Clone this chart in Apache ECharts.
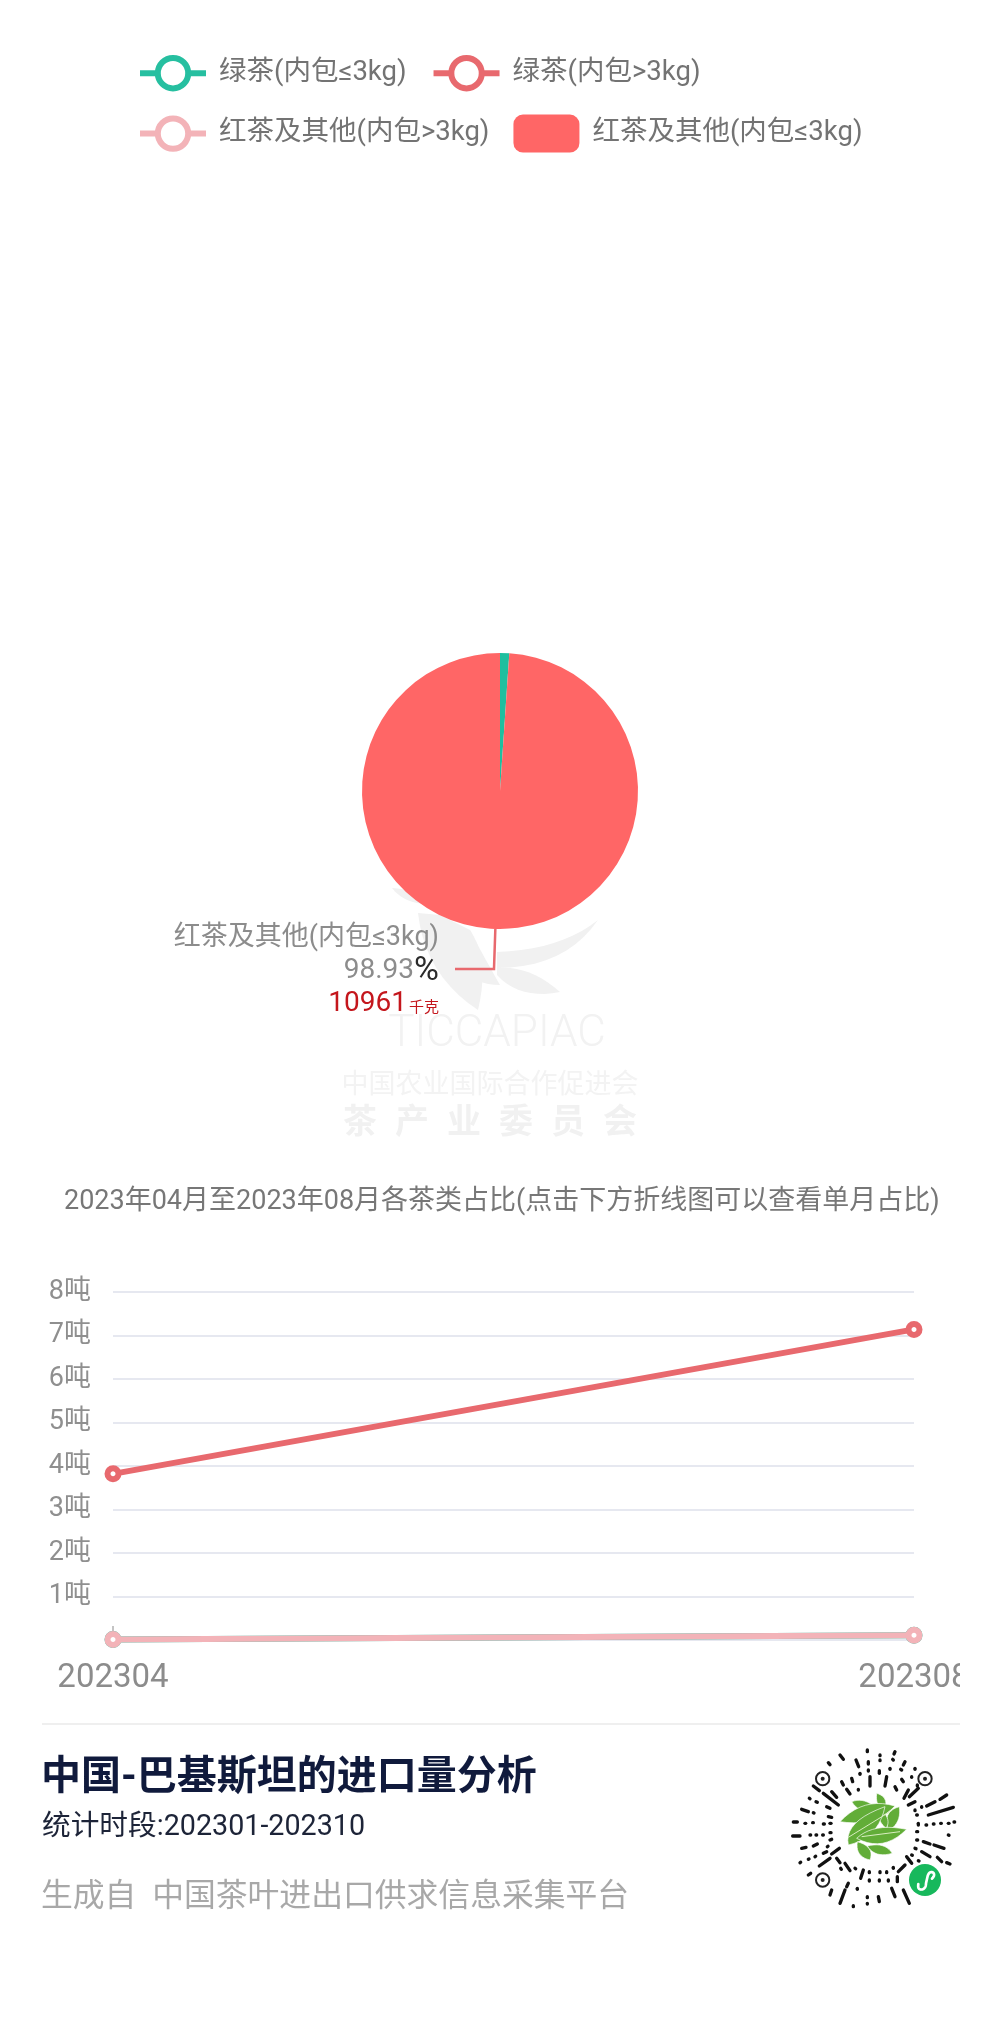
<!DOCTYPE html>
<html><head><meta charset="utf-8">
<style>html,body{margin:0;padding:0;background:#fff}#c{width:1000px;height:2042px}</style>
<script src="https://cdn.jsdelivr.net/npm/echarts@6/dist/echarts.min.js"></script>
</head><body><div id="c"></div>
<script>
const months = ['202304', '202308'];
const yTicks = [0, 1, 2, 3, 4, 5, 6, 7, 8];
const nameGreenSmall = '绿茶(内包≤3kg)';
const nameGreenBig = '绿茶(内包>3kg)';
const nameBlackBig = '红茶及其他(内包>3kg)';
const nameBlackSmall = '红茶及其他(内包≤3kg)';
const greenSmallLine = [0.01, 0.11];
const greenBigLine = [3.82, 7.14];
const blackBigLine = [0.01, 0.11];
const pieGreenSmall = 119;
const pieBlackSmall = 10961;
const chartTitle = '2023年04月至2023年08月各茶类占比(点击下方折线图可以查看单月占比)';
const footTitle = '中国-巴基斯坦的进口量分析';
const footPeriod = '统计时段:202301-202310';
const footSource = '生成自  中国茶叶进出口供求信息采集平台';

const FONT = 'Roboto, "Noto Sans CJK SC", sans-serif';
const CJK = '"Noto Sans CJK SC", sans-serif';
const GREEN = '#26bfa0', RED = '#e8696e', PINK = '#f3b3b8', PIE_RED = '#ff6666';

function lineSeries(name, data, color, z) {
  return {
    type: 'line', name, data, z,
    symbol: 'circle', symbolSize: 11, showSymbol: true,
    lineStyle: {color, width: 6},
    itemStyle: {color: '#fff', borderColor: color, borderWidth: 6},
    emphasis: {disabled: true}
  };
}
// decorative outline helper: turns "M..Q..L..Z" strings into polygon points
function outline(d) {
  const pts = []; let cur = null;
  d.replace(/([MQL])([^MQLZ]*)/g, (m, c, a) => {
    const n = a.trim().split(/[\s,]+/).map(Number);
    if (c === 'Q') {
      for (let k = 1; k <= 10; k++) {
        const t = k / 10, u = 1 - t;
        pts.push([u*u*cur[0] + 2*u*t*n[0] + t*t*n[2], u*u*cur[1] + 2*u*t*n[1] + t*t*n[3]]);
      }
      cur = [n[2], n[3]];
    } else { cur = [n[0], n[1]]; pts.push(cur); }
    return m;
  });
  return pts;
}
const qrDashes = [[262,30,262,35],[300,45,300,47],[345,35,342,42],[180,45,190,58],[145,68,150,74],[228,60,236,80],[265,65,265,72],[300,60,300,62],[338,58,340,60],[375,65,370,75],[265,90,265,93],[298,92,298,100],[330,85,330,88],[362,88,365,90],[405,85,405,88],[270,110,270,138],[320,110,315,138],[240,100,240,103],[215,115,218,125],[185,125,190,135],[345,140,350,150],[370,125,365,118],[395,110,395,112],[412,135,412,138],[100,138,118,152],[130,160,175,195],[155,155,170,172],[200,148,210,162],[235,148,235,150],[385,150,372,175],[415,145,388,170],[405,185,385,195],[500,165,480,178],[465,185,440,198],[425,200,425,202],[520,202,445,225],[405,210,405,212],[88,175,90,176],[108,185,112,187],[65,208,85,215],[100,218,102,219],[140,200,150,205],[145,230,155,232],[40,246,52,246],[75,250,77,250],[98,248,100,248],[130,252,133,252],[150,250,153,250],[38,288,60,288],[90,285,92,285],[108,285,110,285],[128,285,130,285],[150,278,153,278],[155,298,150,300],[65,325,78,322],[100,318,112,312],[142,320,144,319],[60,368,62,367],[85,358,87,357],[105,350,107,349],[130,340,140,335],[155,342,178,325],[118,378,150,355],[170,355,180,368],[195,370,210,392],[85,405,92,400],[205,430,200,440],[182,385,184,388],[225,385,227,386],[250,390,242,415],[150,465,155,450],[180,490,195,450],[220,497,220,500],[232,445,232,448],[262,470,262,473],[262,490,262,492],[268,395,268,398],[268,420,268,423],[300,395,300,398],[298,420,298,423],[295,470,298,485],[320,395,320,398],[325,420,325,423],[335,445,345,470],[352,410,352,425],[340,382,340,385],[375,375,355,395],[380,350,395,370],[370,450,388,490],[415,250,415,255],[438,255,440,255],[460,252,462,252],[482,250,484,250],[505,250,507,250],[522,246,524,246],[505,285,507,286],[410,275,413,275],[410,300,413,300],[405,325,408,326],[430,305,450,312],[462,315,492,325],[425,335,450,350],[472,352,485,365],[500,368,510,372],[395,345,397,346],[415,362,417,363],[410,225,412,225]];
const qrLeaves = ['M215,185Q255,170 292,208Q245,230 215,185Z','M290,160Q325,170 316,205Q285,205 290,160Z','M358,200Q305,215 325,272Q365,250 358,200Z','M285,205Q295,245 318,265Q335,240 305,210Z','M180,245Q250,170 345,198Q285,262 180,245Z','M205,315Q190,245 315,200Q295,295 205,315Z','M232,305Q225,350 270,360Q285,320 232,305Z','M262,318Q285,355 337,340Q315,305 262,318Z','M380,268Q280,248 230,295Q310,338 380,268Z'];
const qrFinders = [[128,116],[435,116],[128,420]];

const qrChildren = [];
qrDashes.forEach(d => qrChildren.push({type:'line',shape:{x1:d[0],y1:d[1],x2:d[2],y2:d[3]},style:{stroke:'#111',lineWidth:10,lineCap:'round'}}));
qrFinders.forEach(p => {
  qrChildren.push({type:'circle',shape:{cx:p[0],cy:p[1],r:20},style:{fill:'#fff',stroke:'#222',lineWidth:6}});
  qrChildren.push({type:'circle',shape:{cx:p[0],cy:p[1],r:6},style:{fill:'#222'}});
});
qrLeaves.forEach(d => qrChildren.push({type:'polygon',shape:{points:outline(d)},style:{fill:'#62ad38',stroke:'#fff',lineWidth:2}}));
qrChildren.push({type:'line',shape:{x1:205,y1:292,x2:335,y2:212},style:{stroke:'#d8edc0',lineWidth:3}});
qrChildren.push({type:'line',shape:{x1:245,y1:290,x2:360,y2:275},style:{stroke:'#d8edc0',lineWidth:3}});
qrChildren.push({type:'circle',shape:{cx:435,cy:420,r:48},style:{fill:'#17b85c'}});
qrChildren.push({type:'polyline',shape:{points:outline('M415,432Q412,452 428,448Q438,444 438,430L443,408Q448,392 460,398Q466,406 456,416')},style:{fill:'none',stroke:'#fff',lineWidth:8,lineCap:'round',lineJoin:'round'}});

const wmColor = '#f1f1f1';
const wmLeaves = ['M392,888Q405,905 432,904Q420,890 392,888Z','M418,913Q425,975 478,1010Q490,960 470,930L440,915Z','M445,958Q470,985 500,985Q480,950 470,930Q450,935 445,958Z','M598,920Q560,950 497,952L497,968Q565,968 598,920Z','M560,992Q530,965 497,968L497,975Q520,1000 560,992Z'];
const graphics = [];
wmLeaves.forEach(d => graphics.push({type:'polygon',z:0,shape:{points:outline(d)},style:{fill:wmColor}}));
graphics.push({type:'text',x:497,y:1035,style:{text:'TICCAPIAC',font:'300 44px '+FONT,fill:'#f2f2f2',textAlign:'center',textVerticalAlign:'middle'}});
graphics.push({type:'text',x:490,y:1083,style:{text:'中国农业国际合作促进会',font:'27px '+CJK,fill:'#f3f3f3',textAlign:'center',textVerticalAlign:'middle'}});
['茶','产','业','委','员','会'].forEach((t,i) => graphics.push({type:'text',x:360+52*i,y:1120,style:{text:t,font:'bold 34px '+CJK,fill:'#f1f1f1',textAlign:'center',textVerticalAlign:'middle'}}));
graphics.push({type:'text',x:64,y:1202,style:{text:chartTitle,font:'27px '+FONT,fill:'#777',textAlign:'left',textVerticalAlign:'middle'}});
graphics.push({type:'rect',z:50,shape:{x:960,y:1650,width:40,height:52},style:{fill:'#fff'}});
graphics.push({type:'line',shape:{x1:42,y1:1724,x2:960,y2:1724},style:{stroke:'#efefef',lineWidth:2}});
graphics.push({type:'text',x:41,y:1779,style:{text:footTitle,font:'bold 40px '+FONT,fill:'#101a3c',textAlign:'left',textVerticalAlign:'middle'}});
graphics.push({type:'text',x:42,y:1828,style:{text:footPeriod,font:'28.7px '+FONT,fill:'#1d2438',textAlign:'left',textVerticalAlign:'middle'}});
graphics.push({type:'text',x:41,y:1898,style:{text:footSource,font:'31.8px '+FONT,fill:'#a8a8a8',textAlign:'left',textVerticalAlign:'middle'}});
graphics.push({type:'group',x:780,y:1740,scaleX:1/3,scaleY:1/3,children:qrChildren});

const lineIcon = c => ({itemStyle:{color:'#fff',borderColor:c,borderWidth:6},lineStyle:{color:c,width:6}});
const chart = echarts.init(document.getElementById('c'), null, {renderer:'canvas'});
chart.setOption({
  animation: false,
  backgroundColor: '#fff',
  textStyle: {fontFamily: FONT},
  legend: {
    left: 137, top: 55, width: 744, padding: 0, itemWidth: 66, itemHeight: 38, itemGap: 24,
    selectedMode: false,
    textStyle: {fontSize: 27.5, color: '#737373', fontFamily: FONT, padding: [0, 13, 0, 8]},
    data: [
      Object.assign({name: nameGreenSmall}, lineIcon(GREEN)),
      Object.assign({name: nameGreenBig}, lineIcon(RED)),
      Object.assign({name: nameBlackBig}, lineIcon(PINK)),
      {name: nameBlackSmall, icon: 'roundRect', itemStyle: {color: PIE_RED, borderWidth: 0}}
    ]
  },
  grid: {left: 113, right: 86, top: 1292, bottom: 402, containLabel: false},
  xAxis: {
    type: 'category', data: months, boundaryGap: false,
    axisLine: {show: false},
    axisTick: {show: true, inside: true, length: 14, interval: (i) => i === 0, lineStyle: {color: '#c4c4c4', width: 2}},
    axisLabel: {fontSize: 33, color: '#8c8c8c', margin: 22, interval: 0, fontFamily: FONT},
    splitLine: {show: false}
  },
  yAxis: {
    type: 'value', min: 0, max: 8, interval: 1,
    axisLine: {show: false}, axisTick: {show: false},
    axisLabel: {fontSize: 27, color: '#8f8f8f', margin: 22, fontFamily: FONT, padding: [4, 0, 0, 0],
      formatter: v => yTicks.includes(v) && v > 0 ? v + '吨' : ''},
    splitLine: {lineStyle: {color: '#e6e8f0', width: 2}}
  },
  series: [
    lineSeries(nameGreenSmall, greenSmallLine, GREEN, 2),
    lineSeries(nameBlackBig, blackBigLine, PINK, 3),
    lineSeries(nameGreenBig, greenBigLine, RED, 4),
    {
      type: 'pie', center: [500, 791], radius: 138, startAngle: 90, clockwise: true,
      avoidLabelOverlap: false, z: 5,
      emphasis: {disabled: true},
      data: [
        {name: nameGreenSmall, value: pieGreenSmall, itemStyle: {color: '#1fbf9f'},
          label: {show: false}, labelLine: {show: false}},
        {name: nameBlackSmall, value: pieBlackSmall, itemStyle: {color: PIE_RED},
          label: {
            show: true, position: 'outside', distanceToLabelLine: 16, padding: [5, 0, 0, 0],
            formatter: '{name|{b}}\n{pct|{d}}{sign|%}\n{val|{c}}{unit|千克}',
            rich: {
              name: {fontSize: 27, color: '#8c8c8c', lineHeight: 33, fontFamily: FONT, align: 'right'},
              pct: {fontSize: 28, color: '#8c8c8c', lineHeight: 33, fontFamily: FONT},
              sign: {fontSize: 34, color: '#2b2b2b', lineHeight: 33, fontFamily: FONT},
              val: {fontSize: 28, color: '#c4161c', lineHeight: 33, fontFamily: FONT},
              unit: {fontSize: 15, color: '#c4161c', lineHeight: 33, fontFamily: CJK, padding: [4, 0, 0, 2]}
            }
          },
          labelLine: {show: true, length: 40, length2: 39, smooth: false, lineStyle: {color: RED, width: 2.5}}}
      ]
    }
  ],
  graphic: {elements: graphics}
});
</script></body></html>
